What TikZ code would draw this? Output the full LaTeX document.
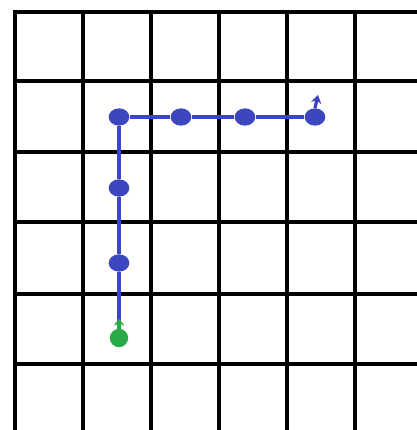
\documentclass[tikz,border=0pt]{standalone}
\usepackage{tikz}
\usetikzlibrary{arrows.meta, shapes.geometric}
\definecolor{pathblue}{RGB}{60,70,190}
\definecolor{startgreen}{RGB}{40,170,70}

\begin{document}
\begin{tikzpicture}[
    x=0.03cm, y=-0.03cm,
    gridline/.style={line width=2.9pt, black, line cap=rect},
    waypt/.style={ellipse, fill=pathblue, inner sep=0pt, minimum width=0.62cm, minimum height=0.52cm},
    startpt/.style={circle, fill=startgreen, inner sep=0pt, minimum size=0.55cm},
    route/.style={line width=4pt, pathblue},
]
    \useasboundingbox (0,0) rectangle (416,430);

    % Grid
    \foreach \gx in {15,83,151,219,287,355}
        \draw[gridline] (\gx,12) -- (\gx,432);
    \foreach \gy in {12,81,152,222,294,364}
        \draw[gridline] (15,\gy) -- (418,\gy);

    % Waypoints
    \node[startpt] (start) at (119,338) {};
    \node[waypt] (w1) at (119,263) {};
    \node[waypt] (w2) at (119,188) {};
    \node[waypt] (w3) at (119,117) {};
    \node[waypt] (w4) at (181,117) {};
    \node[waypt] (w5) at (245,117) {};
    \node[waypt] (w6) at (315,117) {};
    \coordinate (heading) at (318,95);

    % Path
    \draw[route] (start) -- (w1) -- (w2) -- (w3);
    \draw[route] (w3) -- (w4) -- (w5) -- (w6);
    \draw[line width=2.6pt, startgreen, -{Stealth[length=6pt, width=9pt]}] (start.north) -- ++(0,-10);
    \draw[line width=2.8pt, pathblue, -{Stealth[length=7pt, width=9pt]}] (w6.north) -- (heading);
\end{tikzpicture}
\end{document}
